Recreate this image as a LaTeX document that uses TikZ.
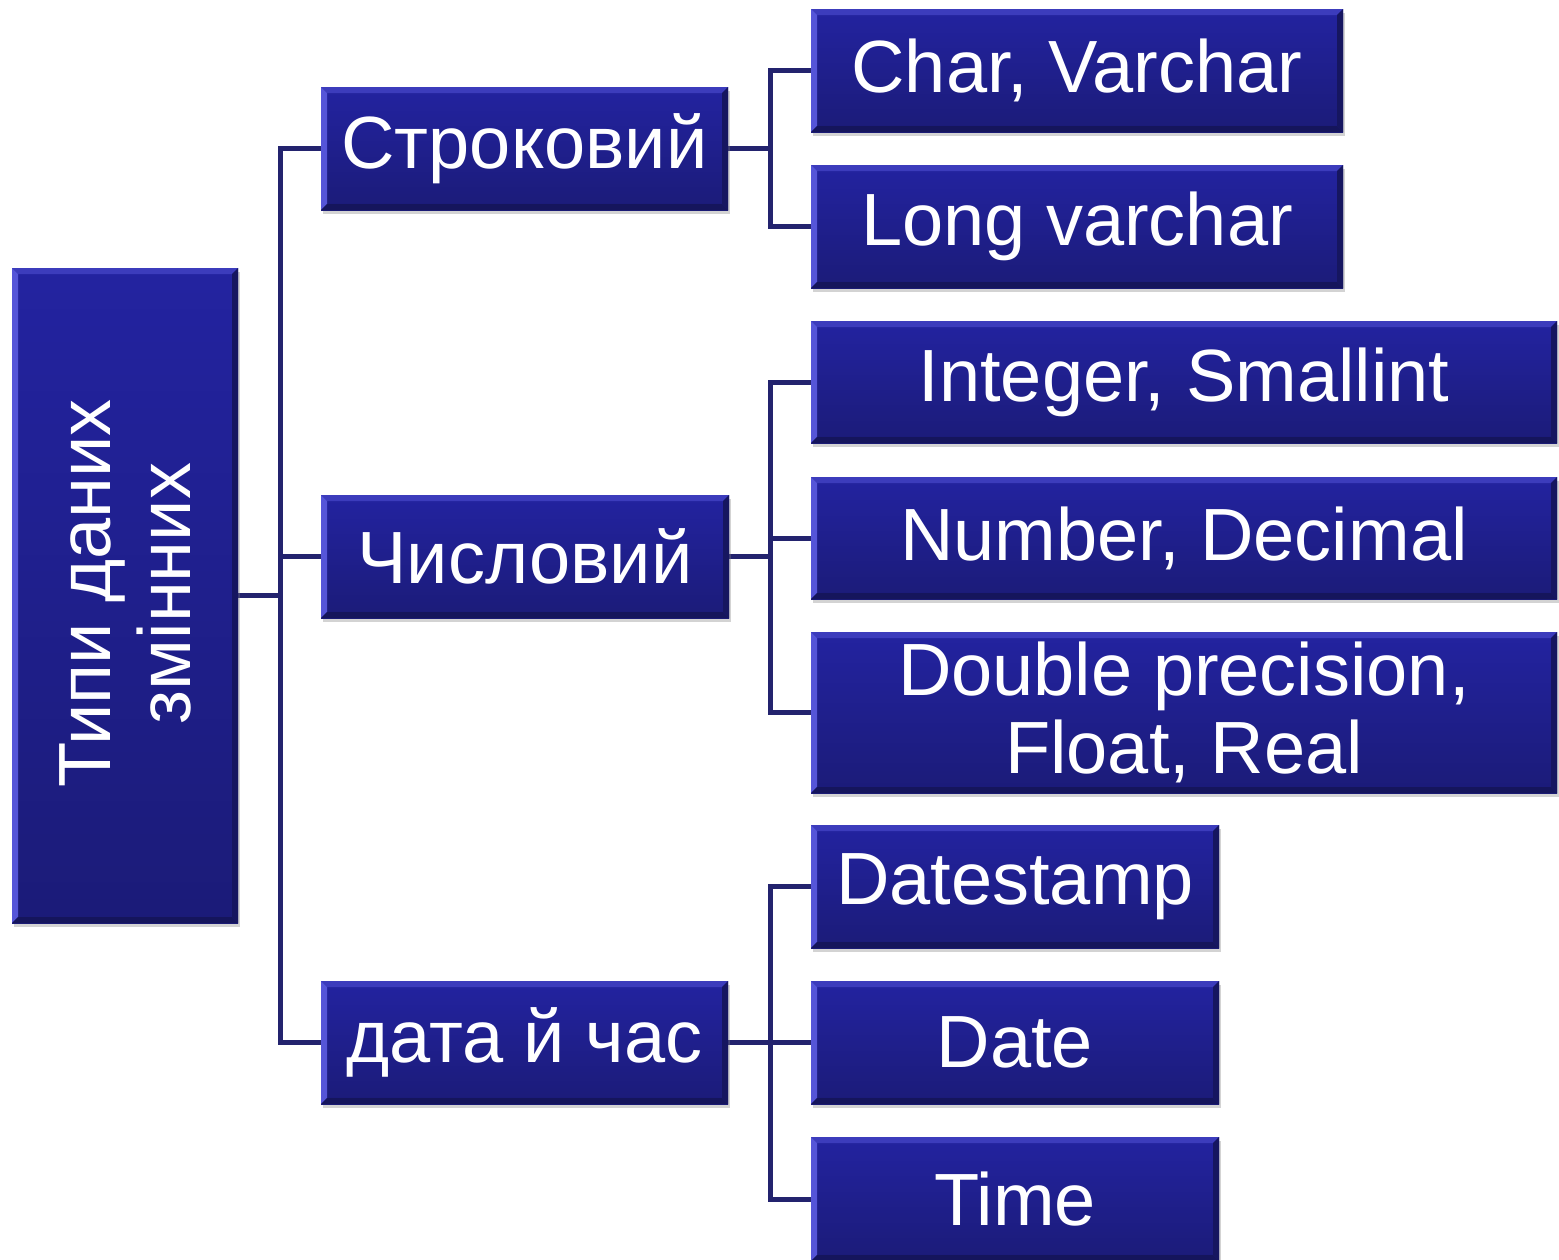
\documentclass[tikz,border=0pt]{standalone}
\usepackage{fontspec}
\setmainfont{Liberation Sans}
\usetikzlibrary{shadows,backgrounds}
\definecolor{boxtop}{HTML}{2323A0}
\definecolor{boxbot}{HTML}{1B1B78}
\definecolor{bevlight}{HTML}{5555D8}
\definecolor{bevtop}{HTML}{3C3CBC}
\definecolor{bevdark}{HTML}{15155C}
\definecolor{linecol}{HTML}{23236E}
\tikzset{
  bx/.style={rectangle, inner sep=0pt, outer sep=0pt, top color=boxtop, bottom color=boxbot,
    drop shadow={opacity=0.35, shadow xshift=2pt, shadow yshift=-4pt},
    path picture={
      \fill[bevtop] (path picture bounding box.north west) -- (path picture bounding box.north east)
        -- ([xshift=-6pt,yshift=-6pt]path picture bounding box.north east) -- ([xshift=6pt,yshift=-6pt]path picture bounding box.north west) -- cycle;
      \fill[bevlight] (path picture bounding box.north west) -- ([xshift=6pt,yshift=-6pt]path picture bounding box.north west)
        -- ([xshift=6pt,yshift=6pt]path picture bounding box.south west) -- (path picture bounding box.south west) -- cycle;
      \fill[bevdark] (path picture bounding box.south west) -- (path picture bounding box.south east)
        -- ([xshift=-6pt,yshift=6pt]path picture bounding box.south east) -- ([xshift=6pt,yshift=6pt]path picture bounding box.south west) -- cycle;
      \fill[bevdark!85!boxbot] (path picture bounding box.north east) -- (path picture bounding box.south east)
        -- ([xshift=-6pt,yshift=6pt]path picture bounding box.south east) -- ([xshift=-6pt,yshift=-6pt]path picture bounding box.north east) -- cycle;
    },
    text=white, font=\fontsize{74}{78}\selectfont, align=center},
  conn/.style={draw=linecol, line width=5pt, line join=miter, line cap=rect},
  txt/.style={text=white, font=\fontsize{74}{80}\selectfont, align=center, inner sep=0pt}
}
\begin{document}
\begin{tikzpicture}[x=1pt,y=-1pt]
\useasboundingbox (0,0) rectangle (1559,1259);
% root
\node[bx, minimum width=226pt, minimum height=655pt] (root) at (125,595.5) {};
\node[txt, rotate=90] (roottext) at ([yshift=2pt]root.center) {Типи даних\\змінних};
% level 1
\node[bx, minimum width=407pt, minimum height=123pt] (str) at (524.5,148.5) {Строковий};
\node[bx, minimum width=408pt, minimum height=123pt] (num) at (525,556.5) {Числовий};
\node[bx, minimum width=407pt, minimum height=123pt] (dt) at (524.5,1042.5) {дата й час};
% level 2
\node[bx, minimum width=532pt, minimum height=123pt] (cv) at (1077,70.5) {Char, Varchar};
\node[bx, minimum width=532pt, minimum height=123pt] (lv) at (1077,226.5) {Long varchar};
\node[bx, minimum width=746pt, minimum height=122pt] (is) at (1184,382) {Integer, Smallint};
\node[bx, minimum width=746pt, minimum height=122pt] (nd) at (1184,538) {Number, Decimal};
\node[bx, minimum width=746pt, minimum height=161pt] (dp) at (1184,712.5) {Double precision,\\Float, Real};
\node[bx, minimum width=408pt, minimum height=123pt] (ds) at (1015,886.5) {Datestamp};
\node[bx, minimum width=408pt, minimum height=123pt] (da) at (1015,1042.5) {Date};
\node[bx, minimum width=408pt, minimum height=124pt] (ti) at (1015,1199) {Time};
% connectors
\begin{pgfonlayer}{background}
\coordinate (j0) at (280,595.5);
\draw[conn] (root.east) -- (j0);
\draw[conn] (str.west) -| (j0);
\draw[conn] (dt.west) -| (j0);
\draw[conn] (num.west) -- (num.west -| j0);
\coordinate (j1) at (770,148.5);
\draw[conn] (str.east) -- (j1);
\draw[conn] (cv.west) -| (j1);
\draw[conn] (lv.west) -| (j1);
\coordinate (j2) at (770,556.5);
\draw[conn] (num.east) -- (j2);
\draw[conn] (is.west) -| (j2);
\draw[conn] (dp.west) -| (j2);
\draw[conn] (nd.west) -- (nd.west -| j2);
\coordinate (j3) at (770,1042.5);
\draw[conn] (dt.east) -- (j3);
\draw[conn] (ds.west) -| (j3);
\draw[conn] (ti.west) -| (j3);
\draw[conn] (da.west) -- (da.west -| j3);
\end{pgfonlayer}
\end{tikzpicture}
\end{document}
